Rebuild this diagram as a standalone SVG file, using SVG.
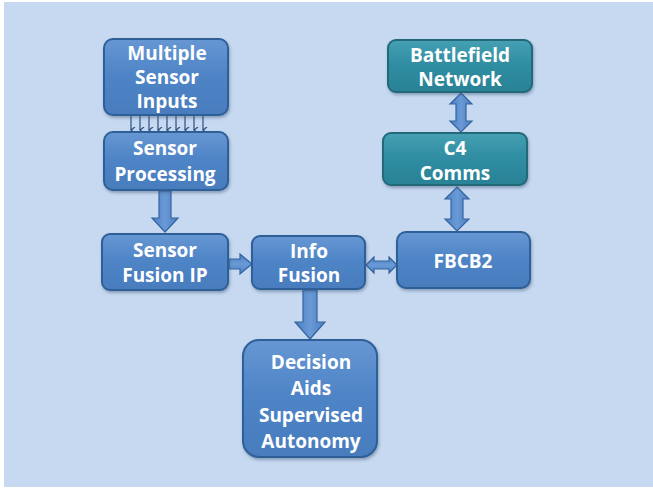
<svg xmlns="http://www.w3.org/2000/svg" width="653" height="488" viewBox="0 0 653 488">
  <defs>
    <linearGradient id="gBlue" x1="0" y1="0" x2="0" y2="1">
      <stop offset="0" stop-color="#6797d3"/>
      <stop offset="0.45" stop-color="#4f85c7"/>
      <stop offset="1" stop-color="#477cbd"/>
    </linearGradient>
    <linearGradient id="gTeal" x1="0" y1="0" x2="0" y2="1">
      <stop offset="0" stop-color="#46a0b3"/>
      <stop offset="0.45" stop-color="#308ea3"/>
      <stop offset="1" stop-color="#2a8296"/>
    </linearGradient>
    <linearGradient id="gArrow" x1="0" y1="0" x2="1" y2="0">
      <stop offset="0" stop-color="#4b80c2"/>
      <stop offset="0.5" stop-color="#6a9ad6"/>
      <stop offset="1" stop-color="#4b80c2"/>
    </linearGradient>
    <linearGradient id="gArrowH" x1="0" y1="0" x2="0" y2="1">
      <stop offset="0" stop-color="#4b80c2"/>
      <stop offset="0.5" stop-color="#6a9ad6"/>
      <stop offset="1" stop-color="#4b80c2"/>
    </linearGradient>
    <filter id="shadow" x="-10%" y="-10%" width="125%" height="130%">
      <feDropShadow dx="1" dy="2" stdDeviation="1.5" flood-color="#3a5577" flood-opacity="0.45"/>
    </filter>
    <marker id="tick" viewBox="0 0 6 6" refX="3" refY="5" markerWidth="5" markerHeight="5" orient="auto">
      <path d="M0,1 L3,5 L6,1" fill="none" stroke="#2a5080" stroke-width="1.2"/>
    </marker>
  </defs>
  <style>
    .box { fill: url(#gBlue); stroke: #2f5f97; stroke-width: 2; filter: url(#shadow); }
    .teal { fill: url(#gTeal); stroke: #23697a; stroke-width: 2; filter: url(#shadow); }
    .lbl { font-family: "Open Sans", "Liberation Sans", sans-serif; font-weight: bold; font-size: 19px; fill: #ffffff; text-anchor: middle; }
    .arw { fill: url(#gArrow); stroke: #34649e; stroke-width: 1.2; stroke-linejoin: miter; }
    .arwh { fill: url(#gArrowH); stroke: #34649e; stroke-width: 1.2; }
    .thin { stroke: #2a5080; stroke-width: 1.2; marker-end: url(#tick); }
  </style>

  <!-- page -->
  <rect x="0" y="0" width="653" height="488" fill="#ffffff"/>
  <rect x="4" y="2" width="649" height="485" fill="#c6d9f0"/>

  <!-- connectors -->
  <g id="connectors">
    <!-- many sensor feeds -->
    <g>
      <line class="thin" x1="131" y1="116" x2="131" y2="130"/>
      <line class="thin" x1="140" y1="116" x2="140" y2="130"/>
      <line class="thin" x1="149" y1="116" x2="149" y2="130"/>
      <line class="thin" x1="158" y1="116" x2="158" y2="130"/>
      <line class="thin" x1="167" y1="116" x2="167" y2="130"/>
      <line class="thin" x1="176" y1="116" x2="176" y2="130"/>
      <line class="thin" x1="185" y1="116" x2="185" y2="130"/>
      <line class="thin" x1="194" y1="116" x2="194" y2="130"/>
      <line class="thin" x1="203" y1="116" x2="203" y2="130"/>
    </g>
    <!-- Sensor Processing to Sensor Fusion IP -->
    <path class="arw" d="M159,191 H171 V218 H178 L165,232 L152,218 H159 Z"/>
    <!-- Sensor Fusion IP to Info Fusion -->
    <path class="arwh" d="M229,259 H240 V254 L252,264 L240,274 V269 H229 Z"/>
    <!-- Info Fusion to FBCB2 (both ways) -->
    <path class="arwh" d="M366,265 L374,257 V261 H389 V257 L397,265 L389,273 V269 H374 V273 Z"/>
    <!-- Battlefield Network to C4 Comms (both ways) -->
    <path class="arw" d="M461,93 L472,104 H466 V121 H472 L461,132 L450,121 H456 V104 H450 Z"/>
    <!-- C4 Comms to FBCB2 (both ways) -->
    <path class="arw" d="M457,187 L469,199 H463 V219 H469 L457,231 L445,219 H451 V199 H445 Z"/>
    <!-- Info Fusion to Decision Aids -->
    <path class="arw" d="M303,290 H317 V322 H325 L310,339 L295,322 H303 Z"/>
  </g>

  <g id="multiple-sensor-inputs">
    <rect class="box" x="104" y="39" width="124" height="76" rx="9"/>
    <text class="lbl" x="167" y="60">Multiple</text>
    <text class="lbl" x="167" y="84">Sensor</text>
    <text class="lbl" x="167" y="108">Inputs</text>
  </g>

  <g id="sensor-processing">
    <rect class="box" x="104" y="132" width="124" height="58" rx="9"/>
    <text class="lbl" x="165" y="155">Sensor</text>
    <text class="lbl" x="165" y="181">Processing</text>
  </g>

  <g id="sensor-fusion-ip">
    <rect class="box" x="102" y="234" width="126" height="56" rx="8"/>
    <text class="lbl" x="165" y="257">Sensor</text>
    <text class="lbl" x="165" y="282">Fusion IP</text>
  </g>

  <g id="info-fusion">
    <rect class="box" x="252" y="236" width="113" height="53" rx="8"/>
    <text class="lbl" x="309" y="258">Info</text>
    <text class="lbl" x="309" y="282">Fusion</text>
  </g>

  <g id="fbcb2">
    <rect class="box" x="397" y="232" width="133" height="56" rx="9"/>
    <text class="lbl" x="463" y="268">FBCB2</text>
  </g>

  <g id="battlefield-network">
    <rect class="teal" x="388" y="40" width="144" height="52" rx="8"/>
    <text class="lbl" x="460" y="62">Battlefield</text>
    <text class="lbl" x="460" y="86">Network</text>
  </g>

  <g id="c4-comms">
    <rect class="teal" x="383" y="133" width="144" height="52" rx="8"/>
    <text class="lbl" x="455" y="155">C4</text>
    <text class="lbl" x="455" y="180">Comms</text>
  </g>

  <g id="decision-aids">
    <rect class="box" x="243" y="340" width="134" height="117" rx="16"/>
    <text class="lbl" x="311" y="369">Decision</text>
    <text class="lbl" x="311" y="395">Aids</text>
    <text class="lbl" x="311" y="422">Supervised</text>
    <text class="lbl" x="311" y="448">Autonomy</text>
  </g>
</svg>
